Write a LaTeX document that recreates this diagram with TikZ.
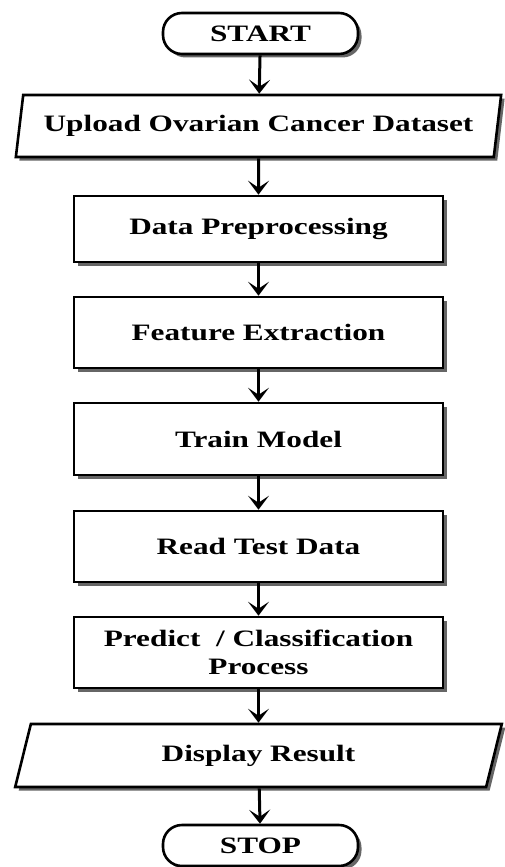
\documentclass[tikz,border=0pt]{standalone}
\usepackage{fontspec}
\setmainfont{Liberation Serif}[FakeStretch=1.33]
\usetikzlibrary{arrows.meta,shapes.geometric,shadows}

\tikzset{
  base/.style={draw=black, line width=2.6pt, fill=white, align=center,
    font=\fontsize{23.5}{27.5}\selectfont\bfseries, inner sep=2pt,
    drop shadow={shadow xshift=3.5pt, shadow yshift=-3.5pt, fill=black!60, opacity=1}},
  terminal/.style={base, rectangle, rounded corners=19pt, minimum width=195pt, minimum height=41pt},
  process/.style={base, rectangle, minimum width=369pt},
  io/.style={base, trapezium, trapezium stretches=true,
    trapezium left angle=75, trapezium right angle=105, minimum width=487pt},
  flow/.style={line width=3pt, -{Stealth[length=14pt, width=21pt, inset=7pt]}}
}

\begin{document}
\begin{tikzpicture}[x=1pt, y=-1pt]
  \useasboundingbox (0,0) rectangle (504,867);

  \node[terminal] (start) at (260.5,33.5) {START};
  \node[io, minimum height=62pt] (upload) at (258.5,126) {Upload Ovarian Cancer Dataset};
  \node[process, minimum height=66pt] (prep) at (258.5,229) {Data Preprocessing};
  \node[process, minimum height=71pt] (feat) at (258.5,332.5) {Feature Extraction};
  \node[process, minimum height=72pt] (train) at (258.5,439) {Train Model};
  \node[process, minimum height=71pt] (read) at (258.5,546.5) {Read Test Data};
  \node[process, minimum height=71pt] (pred) at (258.5,652.5) {Predict~ / Classification\\Process};
  \node[io, minimum height=63pt] (disp) at (258.5,755.5) {Display Result};
  \node[terminal] (stop) at (260.5,845.5) {STOP};

  \draw[flow] (start) -- (upload);
  \draw[flow] (upload) -- (prep);
  \draw[flow] (prep) -- (feat);
  \draw[flow] (feat) -- (train);
  \draw[flow] (train) -- (read);
  \draw[flow] (read) -- (pred);
  \draw[flow] (pred) -- (disp);
  \draw[flow] (disp) -- (stop);
\end{tikzpicture}
\end{document}
